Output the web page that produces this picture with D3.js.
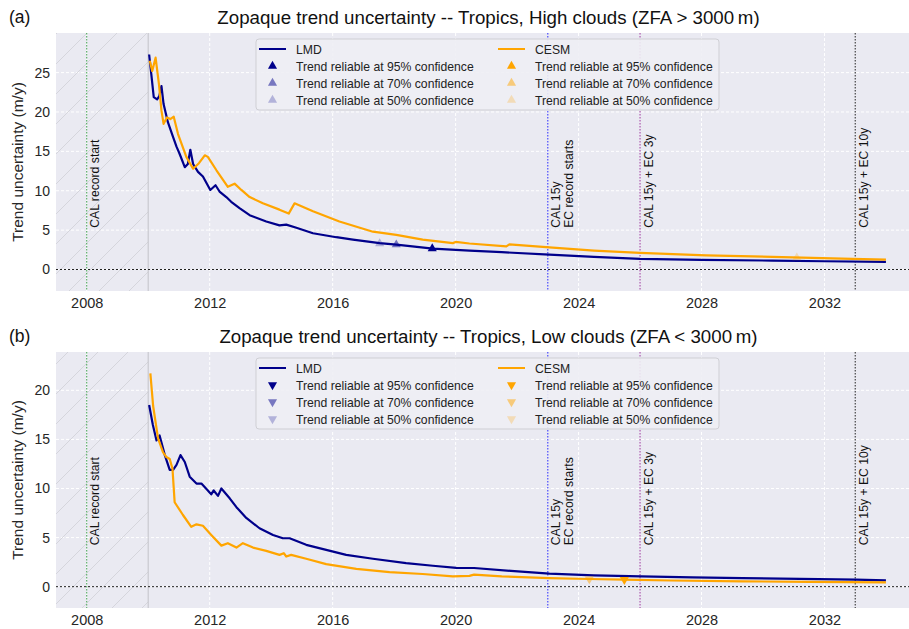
<!DOCTYPE html>
<html><head><meta charset="utf-8">
<script src="https://cdn.jsdelivr.net/npm/d3@7"></script>
<style>
body{margin:0;background:#fff}
text{font-family:"Liberation Sans",Arial,Helvetica,sans-serif}
</style>
</head><body>
<svg id="c" width="909" height="629"></svg>
<script>
// ---------------- DATA ----------------
const xTickYears = [2008, 2012, 2016, 2020, 2024, 2028, 2032];
const yTicksA = [0, 5, 10, 15, 20, 25];
const yTicksB = [0, 5, 10, 15, 20];
const seriesNames = ["LMD", "CESM"];
const confLevels = ["95%", "70%", "50%"];
const eventYears = [2008, 2023, 2026, 2033];
const eventLabels = [["CAL record start"], ["CAL 15y", "EC record starts"], ["CAL 15y + EC 3y"], ["CAL 15y + EC 10y"]];
const hatchEnd = 2010;

// Panel (a): High clouds
const aLmdT = [2010.03,2010.10,2010.18,2010.29,2010.36,2010.43,2010.50,2010.64,2010.81,2010.92,2011.02,2011.19,2011.29,2011.37,2011.46,2011.62,2011.78,2012.02,2012.19,2012.32,2012.54,2012.70,2012.97,2013.30,2013.84,2014.27,2014.49,2014.82,2015.36,2016.12,2016.66,2017.53,2018.07,2019.26,2020.45,2021.5,2023.05,2024.5,2026.0,2028.0,2030.3,2032.0,2034.0];
const aLmdV = [27.3,24.8,21.9,21.6,22.0,23.3,21.0,18.7,16.8,15.6,14.7,13.0,13.4,15.2,13.4,12.4,11.8,10.1,10.7,9.9,9.2,8.6,7.8,6.9,6.1,5.6,5.7,5.3,4.6,4.1,3.8,3.35,3.15,2.65,2.4,2.2,1.9,1.6,1.35,1.22,1.13,1.05,0.97];
const aCesmT = [2010.05,2010.13,2010.24,2010.35,2010.43,2010.50,2010.61,2010.72,2010.83,2010.97,2011.24,2011.46,2011.65,2011.84,2011.94,2012.22,2012.59,2012.81,2013.03,2013.30,2013.73,2014.27,2014.57,2014.76,2015.36,2016.22,2017.31,2018.07,2018.93,2019.91,2020.0,2020.45,2021.65,2021.75,2023.05,2024.5,2026.0,2028.15,2030.3,2032.9,2034.0];
const aCesmV = [26.5,25.2,26.9,23.5,20.2,18.5,19.3,19.1,19.4,17.2,14.3,12.8,13.5,14.5,14.3,12.6,10.5,10.9,10.1,9.2,8.4,7.6,7.1,8.4,7.4,6.1,4.8,4.4,3.8,3.35,3.5,3.3,2.94,3.2,2.8,2.4,2.1,1.8,1.6,1.35,1.26];
// reliable-trend markers: [year, value, confidence index]
const aLmdMarks = [[2017.53, 3.3, 2], [2018.07, 3.15, 1], [2019.24, 2.65, 0]];
const aCesmMarks = [[2031.1, 1.5, 2]];

// Panel (b): Low clouds
const bLmdT = [2010.03,2010.15,2010.27,2010.37,2010.54,2010.70,2010.81,2010.92,2011.05,2011.19,2011.35,2011.57,2011.73,2011.94,2012.05,2012.13,2012.27,2012.38,2012.65,2012.87,2013.19,2013.62,2014.06,2014.38,2014.60,2015.14,2015.79,2016.44,2017.31,2018.39,2019.26,2020.02,2020.6,2021.8,2023.05,2024.5,2026.03,2027.7,2029.33,2031.2,2033.02,2034.0];
const bLmdV = [18.5,16.5,14.9,15.4,13.4,11.9,11.9,12.4,13.4,12.7,11.2,10.5,10.5,9.8,9.4,9.8,9.25,10.0,9.0,8.1,7.0,5.95,5.27,4.93,4.93,4.26,3.75,3.24,2.84,2.40,2.13,1.92,1.9,1.6,1.32,1.15,1.04,0.95,0.88,0.79,0.71,0.64];
const bCesmT = [2010.07,2010.16,2010.32,2010.48,2010.59,2010.70,2010.79,2010.86,2011.13,2011.40,2011.57,2011.78,2012.05,2012.38,2012.59,2012.87,2013.08,2013.41,2013.84,2014.27,2014.41,2014.49,2014.65,2015.14,2015.79,2016.77,2017.85,2018.93,2019.91,2020.45,2020.6,2021.5,2023.05,2024.35,2025.49,2027.0,2029.33,2031.5,2034.0];
const bCesmV = [21.73,18.4,15.1,13.7,13.2,13.0,12.0,8.6,7.3,6.1,6.35,6.2,5.27,4.18,4.43,3.98,4.43,3.98,3.65,3.24,3.41,3.07,3.24,2.84,2.30,1.82,1.49,1.29,1.04,1.1,1.22,1.05,0.88,0.78,0.71,0.63,0.54,0.49,0.44];
const bLmdMarks = [];
const bCesmMarks = [[2024.35, 0.78, 1], [2025.49, 0.71, 0]];

// ---------------- STYLE ----------------
const colLMD = "#00008B", colCESM = "#FFA500";
const confAlpha = [1, 0.5, 0.25];
const eventColors = ["#3fa34d", "#2a2aff", "#a03aa0", "#222222"];
const bg = "#EAEAF2";
const xLeft = 56, xRight = 909;

const svg = d3.select("#c");
svg.append("rect").attr("width", 909).attr("height", 629).attr("fill", "#fff");

const defs = svg.append("defs");
const pat = defs.append("pattern").attr("id", "hatch").attr("patternUnits", "userSpaceOnUse")
  .attr("width", 30).attr("height", 30);
pat.append("path").attr("d", "M0,30 L30,0 M-5,5 L5,-5 M25,35 L35,25")
  .attr("stroke", "#d2d2d9").attr("stroke-width", 0.9);

function drawPanel(p, idx) {
  const x = d3.scaleLinear().domain([2007, 2034.75]).range([xLeft, xRight]);
  const ymax = d3.max(p.lmdV.concat(p.cesmV));
  const y = d3.scaleLinear().domain([-0.1 * ymax, 1.1 * ymax]).range([p.bottom, p.top]);
  const g = svg.append("g");
  const clipId = "clip" + idx;
  defs.append("clipPath").attr("id", clipId).append("rect")
    .attr("x", xLeft).attr("y", p.top).attr("width", xRight - xLeft).attr("height", p.bottom - p.top);

  g.append("rect").attr("x", xLeft).attr("y", p.top).attr("width", xRight - xLeft)
    .attr("height", p.bottom - p.top).attr("fill", bg);

  const inner = g.append("g").attr("clip-path", `url(#${clipId})`);
  // grid
  inner.selectAll(".gx").data(xTickYears).join("line")
    .attr("x1", d => x(d)).attr("x2", d => x(d)).attr("y1", p.top).attr("y2", p.bottom)
    .attr("stroke", "#fff").attr("stroke-width", 1).attr("stroke-dasharray", "3,2");
  inner.selectAll(".gy").data(p.yTicks).join("line")
    .attr("x1", xLeft).attr("x2", xRight).attr("y1", d => y(d)).attr("y2", d => y(d))
    .attr("stroke", "#fff").attr("stroke-width", 1).attr("stroke-dasharray", "3,2");
  // hatch
  inner.append("rect").attr("x", x(2007) - 2).attr("y", p.top).attr("width", x(hatchEnd) - x(2007) + 2)
    .attr("height", p.bottom - p.top).attr("fill", "url(#hatch)");
  inner.append("line").attr("x1", x(hatchEnd)).attr("x2", x(hatchEnd)).attr("y1", p.top).attr("y2", p.bottom)
    .attr("stroke", "#c9c9cf").attr("stroke-width", 1.2);
  // zero line
  inner.append("line").attr("x1", xLeft).attr("x2", xRight).attr("y1", y(0)).attr("y2", y(0))
    .attr("stroke", "#222").attr("stroke-width", 1).attr("stroke-dasharray", "2,2");
  // events
  const labY = p.bottom - 0.245 * (p.bottom - p.top);
  eventYears.forEach((ey, i) => {
    inner.append("line").attr("x1", x(ey)).attr("x2", x(ey)).attr("y1", p.top).attr("y2", p.bottom)
      .attr("stroke", eventColors[i]).attr("stroke-width", 1).attr("stroke-dasharray", "1.5,1.5");
    eventLabels[i].forEach((t, j) => {
      g.append("text").attr("transform", `translate(${x(ey) + 12.5 + j * 12.5},${labY}) rotate(-90)`)
        .attr("font-size", 12.2).attr("fill", "#111").text(t);
    });
  });
  // lines
  const line = d3.line().x(d => x(d[0])).y(d => y(d[1]));
  const lmd = d3.zip(p.lmdT, p.lmdV), cesm = d3.zip(p.cesmT, p.cesmV);
  inner.append("path").datum(lmd).attr("d", line).attr("fill", "none").attr("stroke", colLMD)
    .attr("stroke-width", 2.2).attr("stroke-linejoin", "round");
  inner.append("path").datum(cesm).attr("d", line).attr("fill", "none").attr("stroke", colCESM)
    .attr("stroke-width", 2.2).attr("stroke-linejoin", "round");
  // markers
  const sym = d3.symbol().type(d3.symbolTriangle).size(36);
  const rot = p.down ? 180 : 0;
  [[p.lmdMarks, colLMD], [p.cesmMarks, colCESM]].forEach(([mk, c]) => {
    inner.selectAll(null).data(mk).join("path").attr("d", sym)
      .attr("transform", d => `translate(${x(d[0])},${y(d[1])}) rotate(${rot})`)
      .attr("fill", c).attr("fill-opacity", d => confAlpha[d[2]]);
  });

  // axes
  const ax = g.append("g").attr("transform", `translate(0,${p.bottom})`)
    .call(d3.axisBottom(x).tickValues(xTickYears).tickFormat(d3.format("d")).tickSize(0).tickPadding(7));
  ax.select(".domain").remove();
  ax.selectAll("text").attr("font-size", 14.5).attr("fill", "#262626").attr("font-family", "Liberation Sans, Arial, sans-serif");
  const ay = g.append("g").attr("transform", `translate(${xLeft},0)`)
    .call(d3.axisLeft(y).tickValues(p.yTicks).tickFormat(d3.format("d")).tickSize(0).tickPadding(6));
  ay.select(".domain").remove();
  ay.selectAll("text").attr("font-size", 14).attr("fill", "#262626").attr("font-family", "Liberation Sans, Arial, sans-serif");

  g.append("text").attr("transform", `translate(23,${(p.top + p.bottom) / 2}) rotate(-90)`)
    .attr("text-anchor", "middle").attr("font-size", 15.5).attr("fill", "#262626").text("Trend uncertainty (m/y)");
  g.append("text").attr("x", (xLeft + xRight) / 2 + 6).attr("y", p.top - 9).attr("text-anchor", "middle")
    .attr("font-size", 18.7).attr("fill", "#111").text(p.title);
  g.append("text").attr("x", 9).attr("y", p.top - 10).attr("font-size", 17.5).attr("fill", "#111").text(p.letter);

  // legend
  const L = g.append("g").attr("transform", `translate(256,${p.top + 6})`);
  L.append("rect").attr("width", 463).attr("height", 71).attr("rx", 3)
    .attr("fill", "#EEEEF4").attr("fill-opacity", 0.9).attr("stroke", "#cfcfd4");
  seriesNames.forEach((nm, ci) => {
    const c = ci === 0 ? colLMD : colCESM;
    const lx = ci === 0 ? 3 : 242;
    L.append("line").attr("x1", lx).attr("x2", lx + 27).attr("y1", 10).attr("y2", 10)
      .attr("stroke", c).attr("stroke-width", 2);
    L.append("text").attr("x", lx + 37).attr("y", 14.5).attr("font-size", 12.2).attr("fill", "#222").text(nm);
    confLevels.forEach((cl, k) => {
      const ry = 27 + k * 17;
      L.append("path").attr("d", sym).attr("transform", `translate(${lx + 13.5},${ry}) rotate(${rot})`)
        .attr("fill", c).attr("fill-opacity", confAlpha[k]);
      L.append("text").attr("x", lx + 37).attr("y", ry + 4.5).attr("font-size", 12.2).attr("fill", "#222")
        .text(`Trend reliable at ${cl} confidence`);
    });
  });
}

const panels = [
  {letter: "(a)", title: "Zopaque trend uncertainty -- Tropics, High clouds (ZFA > 3000\u2009m)", top: 33, bottom: 291,
   yTicks: yTicksA, lmdT: aLmdT, lmdV: aLmdV, cesmT: aCesmT, cesmV: aCesmV, lmdMarks: aLmdMarks, cesmMarks: aCesmMarks, down: false},
  {letter: "(b)", title: "Zopaque trend uncertainty -- Tropics, Low clouds (ZFA < 3000\u2009m)", top: 352, bottom: 608,
   yTicks: yTicksB, lmdT: bLmdT, lmdV: bLmdV, cesmT: bCesmT, cesmV: bCesmV, lmdMarks: bLmdMarks, cesmMarks: bCesmMarks, down: true}
];
panels.forEach(drawPanel);
</script>
</body></html>
